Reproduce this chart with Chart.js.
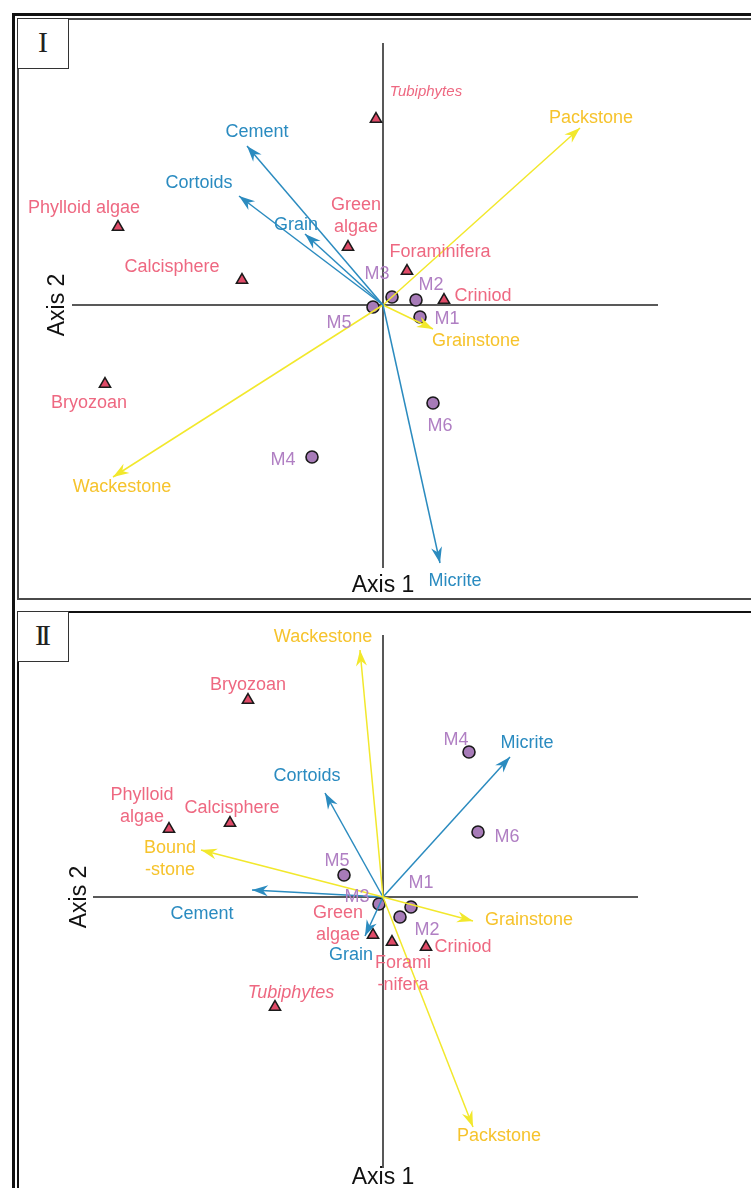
<!DOCTYPE html>
<html><head><meta charset="utf-8">
<script src="https://cdn.jsdelivr.net/npm/chart.js@4.4.0/dist/chart.umd.min.js"></script>
<style>
html,body{margin:0;padding:0;background:#fff;}
body{width:751px;height:1188px;overflow:hidden;position:relative;font-family:"Liberation Sans",Arial,sans-serif;}
.outerTop{position:absolute;left:12px;top:13px;width:800px;height:3px;background:#111;}
.outerLeft{position:absolute;left:12px;top:13px;width:3px;height:1200px;background:#111;}
.panel{position:absolute;left:17px;width:800px;box-sizing:border-box;}
#p1{top:18px;height:582px;border:2px solid #4a4a4a;}
#p2{top:611px;height:700px;border:2px solid #111;}
.tag{position:absolute;left:17px;width:52px;height:51px;box-sizing:border-box;border:1.5px solid #333;background:#fff;font-family:"Liberation Serif","DejaVu Serif",serif;font-size:30px;text-align:center;line-height:46px;z-index:3;color:#222;}
#t1{top:18px;}
#t2{top:611px;letter-spacing:-4px;text-indent:-4px;}
.cv{position:absolute;left:20px;z-index:2;}
#c1wrap{top:21px;width:731px;height:576px;}
#c2wrap{top:614px;width:731px;height:574px;}
</style></head>
<body>
<div class="outerTop"></div><div class="outerLeft"></div>
<div class="panel" id="p1"></div>
<div class="panel" id="p2"></div>
<div class="cv" id="c1wrap"><canvas id="c1" width="731" height="576"></canvas></div>
<div class="cv" id="c2wrap"><canvas id="c2" width="731" height="574"></canvas></div>
<div class="tag" id="t1">I</div>
<div class="tag" id="t2">II</div>
<script>
// ---------------- Panel I data ----------------
const p1SpeciesNames = ['Tubiphytes','Phylloid algae','Calcisphere','Green\nalgae','Foraminifera','Criniod','Bryozoan'];
const p1SpeciesX = [-0.07,-2.65,-1.41,-0.35,0.24,0.61,-2.78];
const p1SpeciesY = [1.86,0.78,0.25,0.58,0.34,0.05,-0.79];
const p1SampleNames = ['M1','M2','M3','M4','M5','M6'];
const p1SampleX = [0.37,0.33,0.09,-0.71,-0.10,0.50];
const p1SampleY = [-0.12,0.05,0.08,-1.52,-0.02,-0.98];
const p1VectorNames = ['Cement','Cortoids','Grain','Micrite','Packstone','Wackestone','Grainstone'];
const p1VectorX = [-1.36,-1.44,-0.78,0.57,1.97,-2.70,0.50];
const p1VectorY = [1.59,1.09,0.71,-2.58,1.77,-1.72,-0.24];
const p1VectorGroup = ['component','component','component','component','texture','texture','texture'];

// ---------------- Panel II data ----------------
const p2SpeciesNames = ['Bryozoan','Phylloid\nalgae','Calcisphere','Green\nalgae','Forami\n-nifera','Criniod','Tubiphytes'];
const p2SpeciesX = [-1.35,-2.14,-1.53,-0.10,0.09,0.43,-1.08];
const p2SpeciesY = [1.97,0.68,0.74,-0.38,-0.45,-0.50,-1.10];
const p2SampleNames = ['M1','M2','M3','M4','M5','M6'];
const p2SampleX = [0.28,0.17,-0.04,0.86,-0.39,0.95];
const p2SampleY = [-0.10,-0.20,-0.07,1.45,0.22,0.65];
const p2VectorNames = ['Wackestone','Packstone','Bound\n-stone','Grainstone','Cortoids','Micrite','Cement','Grain'];
const p2VectorX = [-0.23,0.90,-1.82,0.90,-0.58,1.27,-1.31,-0.18];
const p2VectorY = [2.47,-2.30,0.47,-0.24,1.04,1.40,0.07,-0.39];
const p2VectorGroup = ['texture','texture','texture','texture','component','component','component','component'];

// ---------------- styles / layout (not data) ----------------
const COL = {
  speciesText:'#ee6881', speciesFill:'#e04b68',
  sampleText:'#b07fc3', sampleFill:'#a77bb8',
  componentLine:'#2b8bbf', componentText:'#2a8bc0',
  textureLine:'#f2e82c', textureText:'#f6c32c',
  axis:'#222'
};
const p1Layout = {
  xRange:[-3.63,3.68], yRange:[-2.92,2.84],
  xAxis:[-3.11,2.75], yAxis:[2.62,-2.63],
  axis1Offset:18, axis2Offset:-14, italicSize:15,
  speciesOff:{'Tubiphytes':[50,-27],'Phylloid algae':[-34,-19],'Calcisphere':[-70,-13],'Green\nalgae':[8,-31],'Foraminifera':[33,-19],'Criniod':[39,-4],'Bryozoan':[-16,19]},
  sampleOff:{'M1':[27,2],'M2':[15,-15],'M3':[-15,-23],'M4':[-29,3],'M5':[-34,16],'M6':[7,23]},
  vectorOff:{'Cement':[10,-14],'Cortoids':[-40,-13],'Grain':[-9,-9],'Micrite':[15,18],'Packstone':[11,-10],'Wackestone':[9,10],'Grainstone':[43,12]}
};
const p2Layout = {
  xRange:[-3.63,3.68], yRange:[-2.91,2.83],
  xAxis:[-2.90,2.55], yAxis:[2.62,-2.71],
  axis1Offset:10, axis2Offset:-13, italicSize:18,
  speciesOff:{'Bryozoan':[0,-15],'Phylloid\nalgae':[-27,-23],'Calcisphere':[2,-15],'Green\nalgae':[-35,-11],'Forami\n-nifera':[11,32],'Criniod':[37,0],'Tubiphytes':[16,-14]},
  sampleOff:{'M1':[10,-24],'M2':[27,13],'M3':[-22,-7],'M4':[-13,-12],'M5':[-7,-14],'M6':[29,5]},
  vectorOff:{'Wackestone':[-37,-13],'Packstone':[26,9],'Bound\n-stone':[-31,9],'Grainstone':[56,-1],'Cortoids':[-18,-17],'Micrite':[17,-14],'Cement':[-50,24],'Grain':[-14,19]}
};
const FONT = '"Liberation Sans", Arial, sans-serif';

function zip(xs, ys){ return xs.map((x,i)=>({x:x, y:ys[i]})); }

function drawText(ctx, text, x, y, color, font){
  ctx.save();
  ctx.fillStyle = color; ctx.font = font;
  ctx.textAlign = 'center'; ctx.textBaseline = 'middle';
  const lines = text.split('\n'); const lh = 22;
  const y0 = y - (lines.length-1)*lh/2;
  lines.forEach((l,i)=>ctx.fillText(l, x, y0 + i*lh));
  ctx.restore();
}

function drawHead(ctx, x, y, ang, color){
  const L = 16, W = 5.5, N = 11;
  ctx.save();
  ctx.translate(x,y); ctx.rotate(ang);
  ctx.beginPath();
  ctx.moveTo(0,0); ctx.lineTo(-L,-W); ctx.lineTo(-N,0); ctx.lineTo(-L,W); ctx.closePath();
  ctx.fillStyle = color; ctx.fill();
  ctx.restore();
}

const overlayPlugin = {
  id:'overlay',
  afterDatasetsDraw(chart){
    const ctx = chart.ctx;
    chart.data.datasets.forEach((ds,i)=>{
      if(ds.kind !== 'vector') return;
      const m = chart.getDatasetMeta(i);
      const a = m.data[0], b = m.data[1];
      drawHead(ctx, b.x, b.y, Math.atan2(b.y-a.y, b.x-a.x), ds.borderColor);
    });
  },
  afterDraw(chart){
    const ctx = chart.ctx; const L = chart.options.plugins.overlay.layout;
    const base = '18px ' + FONT;
    chart.data.datasets.forEach((ds,i)=>{
      const m = chart.getDatasetMeta(i);
      if(ds.kind === 'vector'){
        const b = m.data[1]; const o = L.vectorOff[ds.label] || [0,0];
        drawText(ctx, ds.label, b.x+o[0], b.y+o[1], ds.textColor, base);
      } else if(ds.kind === 'species' || ds.kind === 'sample'){
        const offs = ds.kind === 'species' ? L.speciesOff : L.sampleOff;
        m.data.forEach((pt,j)=>{
          const name = ds.names[j]; const o = offs[name] || [0,0];
          const f = name === 'Tubiphytes' ? 'italic ' + L.italicSize + 'px ' + FONT : base;
          drawText(ctx, name, pt.x+o[0], pt.y+o[1], ds.textColor, f);
        });
      } else if(ds.kind === 'axisV'){
        const bot = m.data[1];
        drawText(ctx, 'Axis 1', bot.x, bot.y + L.axis1Offset, '#111', '23px ' + FONT);
      } else if(ds.kind === 'axisH'){
        const left = m.data[0];
        ctx.save(); ctx.translate(left.x + L.axis2Offset, left.y); ctx.rotate(-Math.PI/2);
        drawText(ctx, 'Axis 2', 0, 0, '#111', '23px ' + FONT);
        ctx.restore();
      }
    });
  }
};

function buildChart(id, L, spN, spX, spY, saN, saX, saY, vN, vX, vY, vG){
  const datasets = [];
  vN.forEach((n,i)=>{
    const comp = vG[i] === 'component';
    datasets.push({kind:'vector', label:n, data:[{x:0,y:0},{x:vX[i],y:vY[i]}], showLine:true,
      borderColor: comp ? COL.componentLine : COL.textureLine, textColor: comp ? COL.componentText : COL.textureText,
      borderWidth:1.5, pointRadius:0, order:0});
  });
  datasets.push({kind:'sample', names:saN, data:zip(saX,saY), pointStyle:'circle', pointRadius:6,
    backgroundColor:COL.sampleFill, borderColor:'#1a1a1a', borderWidth:1.6, textColor:COL.sampleText, order:1});
  datasets.push({kind:'species', names:spN, data:zip(spX,spY), pointStyle:'triangle', pointRadius:6.5,
    backgroundColor:COL.speciesFill, borderColor:'#1a1a1a', borderWidth:1.5, textColor:COL.speciesText, order:1});
  datasets.push({kind:'axisH', data:[{x:L.xAxis[0],y:0},{x:L.xAxis[1],y:0}], showLine:true, borderColor:COL.axis, borderWidth:1.5, pointRadius:0, order:2});
  datasets.push({kind:'axisV', data:[{x:0,y:L.yAxis[0]},{x:0,y:L.yAxis[1]}], showLine:true, borderColor:COL.axis, borderWidth:1.5, pointRadius:0, order:2});
  datasets.forEach(d=>{ d.clip = false; d.pointHoverRadius = d.pointRadius; });
  return new Chart(document.getElementById(id), {
    type:'scatter',
    data:{datasets},
    options:{
      responsive:false, animation:false, events:[],
      layout:{padding:0, autoPadding:false},
      scales:{
        x:{type:'linear', display:false, min:L.xRange[0], max:L.xRange[1]},
        y:{type:'linear', display:false, min:L.yRange[0], max:L.yRange[1]}
      },
      plugins:{legend:{display:false}, tooltip:{enabled:false}, overlay:{layout:L}}
    },
    plugins:[overlayPlugin]
  });
}

buildChart('c1', p1Layout, p1SpeciesNames, p1SpeciesX, p1SpeciesY, p1SampleNames, p1SampleX, p1SampleY, p1VectorNames, p1VectorX, p1VectorY, p1VectorGroup);
buildChart('c2', p2Layout, p2SpeciesNames, p2SpeciesX, p2SpeciesY, p2SampleNames, p2SampleX, p2SampleY, p2VectorNames, p2VectorX, p2VectorY, p2VectorGroup);
</script>
</body></html>
